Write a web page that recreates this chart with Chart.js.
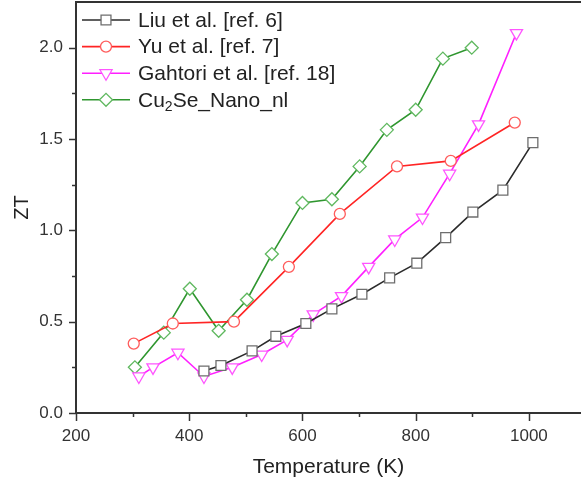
<!DOCTYPE html>
<html>
<head>
<meta charset="utf-8">
<script src="https://cdn.jsdelivr.net/npm/chart.js"></script>
<style>
  html, body { margin: 0; padding: 0; background: #ffffff; }
  #wrap { width: 581px; height: 483px; }
</style>
</head>
<body>
<div id="wrap"><canvas id="ztChart"></canvas></div>
<script>
// values
const liuT  = [426, 456, 511, 553, 606, 652, 705, 754, 802, 853, 901, 954, 1007];
const liuZT = [0.23, 0.26, 0.34, 0.42, 0.49, 0.57, 0.65, 0.74, 0.82, 0.96, 1.10, 1.22, 1.48];

const yuT  = [302, 371, 479, 576, 666, 767, 862, 975];
const yuZT = [0.38, 0.49, 0.50, 0.80, 1.09, 1.35, 1.38, 1.59];

const gahT  = [311, 336, 380, 426, 476, 528, 573, 619, 669, 717, 763, 812, 860, 911, 978];
const gahZT = [0.20, 0.25, 0.33, 0.20, 0.25, 0.32, 0.40, 0.54, 0.64, 0.80, 0.95, 1.07, 1.31, 1.58, 2.08];

const nanoT  = [304, 355, 401, 452, 502, 546, 600, 652, 701, 749, 800, 848, 899];
const nanoZT = [0.25, 0.44, 0.68, 0.45, 0.62, 0.87, 1.15, 1.17, 1.35, 1.55, 1.66, 1.94, 2.00];

const seriesLabels = ["Liu et al. [ref. 6]", "Yu et al. [ref. 7]", "Gahtori et al. [ref. 18]", "Cu2Se_Nano_nl"];
// legend text, {} marks a subscript
const legendTexts = ["Liu et al. [ref. 6]", "Yu et al. [ref. 7]", "Gahtori et al. [ref. 18]", "Cu{2}Se_Nano_nl"];

const FONT = "'Liberation Sans', Arial, sans-serif";
const AXIS = "#333333";

function toPoints(xs, ys) {
    return xs.map((x, i) => ({ x: x, y: ys[i] }));
}

// tick marks (major + minor) and the top frame line
const frameTicks = {
    id: "frameTicks",
    afterDraw(chart) {
        const ctx = chart.ctx;
        const area = chart.chartArea;
        const xs = chart.scales.x;
        const ys = chart.scales.y;
        ctx.save();
        ctx.strokeStyle = AXIS;
        ctx.lineWidth = 1.5;
        for (let v = 200; v <= 1000; v += 100) {
            const px = Math.round(xs.getPixelForValue(v)) + 0.5;
            const len = v % 200 === 0 ? 8 : 4;
            ctx.beginPath();
            ctx.moveTo(px, area.bottom);
            ctx.lineTo(px, area.bottom + len);
            ctx.stroke();
        }
        for (let i = 0; i <= 8; i++) {
            const v = i * 0.25;
            const py = Math.round(ys.getPixelForValue(v)) + 0.5;
            const len = i % 2 === 0 ? 7 : 4;
            ctx.beginPath();
            ctx.moveTo(area.left, py);
            ctx.lineTo(area.left - len, py);
            ctx.stroke();
        }
        ctx.lineWidth = 2;
        ctx.beginPath();
        ctx.moveTo(area.left, area.top);
        ctx.lineTo(area.right, area.top);
        ctx.stroke();
        ctx.restore();
    }
};

// legend with line + marker sample and subscript support
const lineLegend = {
    id: "lineLegend",
    afterDraw(chart) {
        const ctx = chart.ctx;
        const area = chart.chartArea;
        ctx.save();
        chart.data.datasets.forEach((ds, i) => {
            const y = 20 + i * 26.6;
            const x0 = area.left + 6;
            const x1 = area.left + 54;
            ctx.strokeStyle = ds.borderColor;
            ctx.lineWidth = ds.borderWidth;
            ctx.beginPath();
            ctx.moveTo(x0, y);
            ctx.lineTo(x1, y);
            ctx.stroke();
            ctx.fillStyle = "#ffffff";
            ctx.strokeStyle = ds.pointBorderColor;
            ctx.lineWidth = ds.pointBorderWidth;
            Chart.helpers.drawPoint(ctx, {
                pointStyle: ds.pointStyle,
                radius: ds.pointRadius,
                rotation: ds.pointRotation || 0,
                borderWidth: ds.pointBorderWidth
            }, (x0 + x1) / 2, y);

            // text
            let tx = area.left + 62;
            const parts = legendTexts[i].split(/(\{[^}]*\})/);
            ctx.fillStyle = "#222222";
            ctx.textBaseline = "middle";
            ctx.textAlign = "left";
            parts.forEach(p => {
                if (!p) return;
                if (p[0] === "{") {
                    const s = p.slice(1, -1);
                    ctx.font = "14px " + FONT;
                    ctx.fillText(s, tx, y + 7);
                    tx += ctx.measureText(s).width;
                } else {
                    ctx.font = "21px " + FONT;
                    ctx.fillText(p, tx, y + 1);
                    tx += ctx.measureText(p).width;
                }
            });
        });
        ctx.restore();
    }
};

const ctx = document.getElementById("ztChart").getContext("2d");

new Chart(ctx, {
    type: "line",
    data: {
        datasets: [
            {
                label: seriesLabels[0],
                data: toPoints(liuT, liuZT),
                borderColor: "#2b2b2b",
                borderWidth: 1.6,
                pointStyle: "rect",
                pointRadius: 7,
                pointBorderColor: "#6e6e6e",
                pointBorderWidth: 1.3,
                pointBackgroundColor: "#ffffff"
            },
            {
                label: seriesLabels[1],
                data: toPoints(yuT, yuZT),
                borderColor: "#ff2424",
                borderWidth: 1.6,
                pointStyle: "circle",
                pointRadius: 5.5,
                pointBorderColor: "#ff5c5c",
                pointBorderWidth: 1.3,
                pointBackgroundColor: "#ffffff"
            },
            {
                label: seriesLabels[2],
                data: toPoints(gahT, gahZT),
                borderColor: "#ff1fff",
                borderWidth: 1.6,
                pointStyle: "triangle",
                pointRotation: 180,
                pointRadius: 7,
                pointBorderColor: "#ff55ff",
                pointBorderWidth: 1.3,
                pointBackgroundColor: "#ffffff"
            },
            {
                label: seriesLabels[3],
                data: toPoints(nanoT, nanoZT),
                borderColor: "#2f962f",
                borderWidth: 1.6,
                pointStyle: "rectRot",
                pointRadius: 6.5,
                pointBorderColor: "#5fb85f",
                pointBorderWidth: 1.3,
                pointBackgroundColor: "#ffffff"
            }
        ]
    },
    options: {
        responsive: true,
        maintainAspectRatio: false,
        animation: false,
        layout: { autoPadding: false, padding: { top: 2, right: 0, bottom: 0, left: 0 } },
        plugins: {
            legend: { display: false },
            tooltip: { enabled: false }
        },
        scales: {
            x: {
                type: "linear",
                min: 200,
                max: 1092,
                afterFit: scale => {
                    scale.height = 70;
                    scale.paddingLeft = 0;
                    scale.paddingRight = 0;
                },
                grid: { display: false, drawTicks: false },
                border: { display: true, color: AXIS, width: 2 },
                ticks: {
                    stepSize: 200,
                    includeBounds: false,
                    padding: 13,
                    color: "#333333",
                    font: { size: 17, family: FONT },
                    maxRotation: 0,
                    callback: v => String(v)
                },
                title: {
                    display: true,
                    text: "Temperature (K)",
                    color: "#222222",
                    font: { size: 21, family: FONT },
                    padding: { top: 0, bottom: 3 }
                }
            },
            y: {
                min: 0,
                max: 2.25,
                afterFit: scale => {
                    scale.width = 76;
                    scale.paddingTop = 0;
                    scale.paddingBottom = 0;
                },
                grid: { display: false, drawTicks: false },
                border: { display: true, color: AXIS, width: 2 },
                ticks: {
                    stepSize: 0.5,
                    includeBounds: false,
                    padding: 13,
                    color: "#333333",
                    font: { size: 17, family: FONT },
                    callback: v => v.toFixed(1)
                },
                title: {
                    display: true,
                    text: "ZT",
                    color: "#222222",
                    font: { size: 20, family: FONT },
                    padding: { top: 10, bottom: 10 }
                }
            }
        }
    },
    plugins: [frameTicks, lineLegend]
});
</script>
</body>
</html>
